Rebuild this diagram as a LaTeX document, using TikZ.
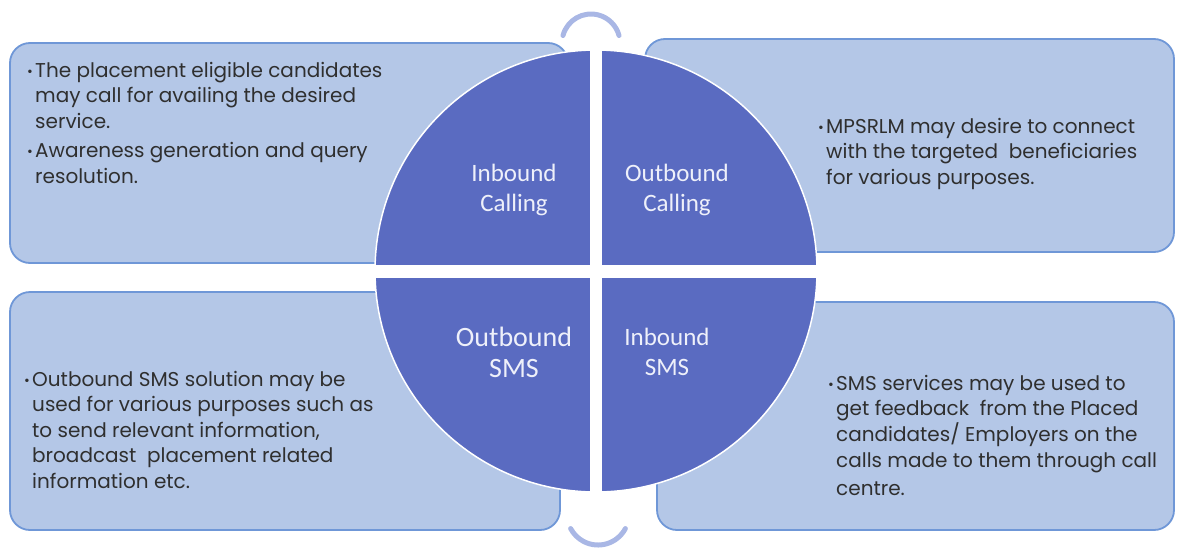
\documentclass[tikz,border=0pt]{standalone}
\usepackage{fontspec}
\setmainfont{Poppins}
\newfontfamily\labelfont{Carlito}
\definecolor{boxfill}{HTML}{B4C7E7}
\definecolor{boxline}{HTML}{6F97D7}
\definecolor{disc}{HTML}{5A6BC1}
\definecolor{arcblue}{HTML}{A9B7E5}
\definecolor{bodytext}{HTML}{2F2F2F}
\definecolor{labeltext}{HTML}{EEF0FA}
\newcommand\pbul{\makebox[8pt][l]{\raisebox{1pt}{\scalebox{0.7}{\textbullet}}}}
\begin{document}
\begin{tikzpicture}[x=1pt,y=-1pt,
  infobox/.style={draw=boxline, line width=1.8pt, fill=boxfill, rounded corners=20pt, inner sep=0pt},
  note/.style={inner sep=0pt, anchor=base west, text=bodytext, font=\fontsize{20}{25.5}\selectfont},
  quad/.style={inner sep=0pt, align=center, text=labeltext, font=\labelfont\fontsize{25}{30}\selectfont},
  turn/.style={draw=arcblue, line width=5pt, line cap=round}]
\useasboundingbox (0,0) rectangle (1177,549);

% four information panels behind the disc
\node[infobox, minimum width=558pt, minimum height=220pt] (tl) at (289,153) {};
\node[infobox, minimum width=529pt, minimum height=213pt] (tr) at (909.5,145.5) {};
\node[infobox, minimum width=550pt, minimum height=238pt] (bl) at (285,411) {};
\node[infobox, minimum width=517pt, minimum height=228pt] (br) at (915.5,416) {};

% central disc split into quarters
\fill[disc, draw=white, line width=1.5pt] (596,271) circle[radius=221];
\begin{scope}
  \clip (596,271) circle[radius=223];
  \fill[white] (590,40) rectangle (602,505);
  \fill[white] (365,265) rectangle (830,278);
\end{scope}

% curved markers above and below the disc
\draw[turn] (591,43) ++(195:29) arc[start angle=195, end angle=345, radius=29];
\draw[turn] (598,514) ++(28:31) arc[start angle=28, end angle=152, radius=31];

% quarter labels
\node[quad] (q1) at (514,190) {Inbound\\Calling};
\node[quad] (q2) at (677,190) {Outbound\\Calling};
\node[quad, font=\labelfont\fontsize{28}{31}\selectfont] (q3) at (514,352) {Outbound\\SMS};
\node[quad] (q4) at (667,352) {Inbound\\SMS};

% panel texts
\node[note] (t1) at (27,77) {\begin{tabular}[t]{@{}l@{}l@{}}
\pbul & The placement eligible candidates\\
 & may call for availing the desired\\
 & service.\\[4pt]
\pbul & Awareness generation and query\\
 & resolution.
\end{tabular}};
\node[note] (t2) at (818,133) {\begin{tabular}[t]{@{}l@{}l@{}}
\pbul & MPSRLM may desire to connect\\
 & with the targeted\ \ beneficiaries\\
 & for various purposes.
\end{tabular}};
\node[note] (t3) at (24,386) {\begin{tabular}[t]{@{}l@{}l@{}}
\pbul & Outbound SMS solution may be\\
 & used for various purposes such as\\
 & to send relevant information,\\
 & broadcast\ \ placement related\\
 & information etc.
\end{tabular}};
\node[note] (t4) at (828,390) {\begin{tabular}[t]{@{}l@{}l@{}}
\pbul & SMS services may be used to\\
 & get feedback\ \ from the Placed\\
 & candidates/ Employers on the\\
 & calls made to them through call\\[3pt]
 & centre.
\end{tabular}};
\end{tikzpicture}
\end{document}
